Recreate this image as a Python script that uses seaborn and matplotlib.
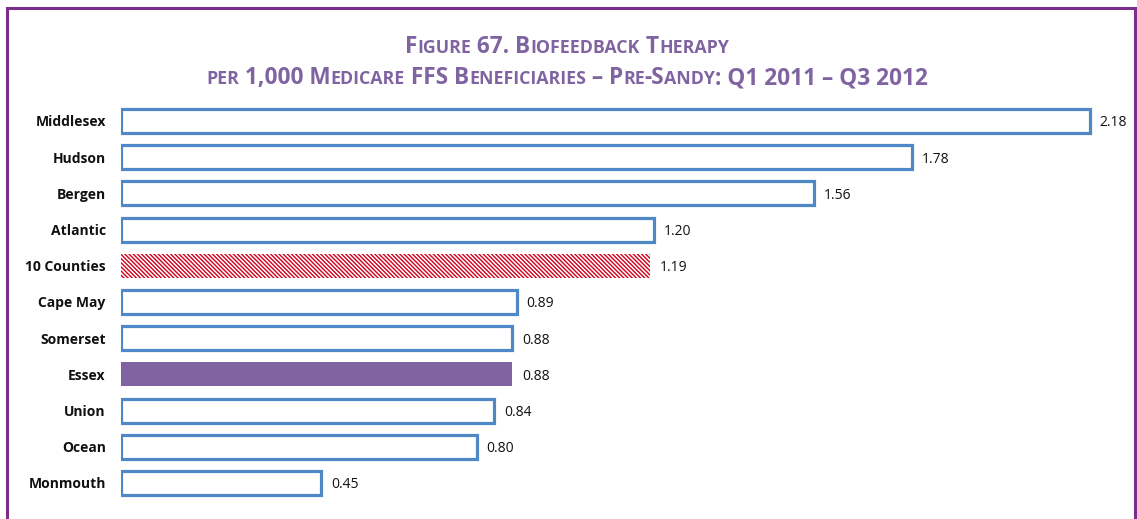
import matplotlib
matplotlib.use("Agg")
import matplotlib.pyplot as plt
from matplotlib.patches import Rectangle
import seaborn as sns

counties = ["Middlesex", "Hudson", "Bergen", "Atlantic", "10 Counties", "Cape May",
            "Somerset", "Essex", "Union", "Ocean", "Monmouth"]
rates = [2.18, 1.78, 1.56, 1.20, 1.19, 0.89, 0.88, 0.88, 0.84, 0.80, 0.45]
value_labels = ["2.18", "1.78", "1.56", "1.20", "1.19", "0.89", "0.88", "0.88", "0.84", "0.80", "0.45"]

title_line1 = "Figure 67. Biofeedback Therapy"
title_line2 = "per 1,000 Medicare FFS Beneficiaries \u2013 Pre-Sandy: Q1 2011 \u2013 Q3 2012"

BLUE = "#4F88C6"
PURPLE = "#8064A2"
FRAME = "#7B2D8E"

sns.set_theme(style="white")
plt.rcParams["font.family"] = ["Open Sans", "DejaVu Sans"]

W, H = 1137, 519
fig = plt.figure(figsize=(W / 100, H / 100), dpi=100)

# axes placement in pixels: bar baseline at x=121, 444.5 px per unit
left_px, width_px = 121, 1000
top_px, bottom_px = 102.9, 501.1
ax = fig.add_axes([left_px / W, 1 - bottom_px / H, width_px / W, (bottom_px - top_px) / H])

sns.barplot(x=rates, y=counties, orient="h", color="white", edgecolor=BLUE,
            linewidth=2.3, width=0.66, saturation=1, ax=ax)

plt.rcParams["hatch.linewidth"] = 0.8
for name, patch in zip(counties, ax.patches):
    if name == "10 Counties":
        patch.set_facecolor("white")
        patch.set_edgecolor("#D0001C")
        patch.set_hatch("\\" * 8)
        patch.set_linewidth(0)
    elif name == "Essex":
        patch.set_facecolor(PURPLE)
        patch.set_edgecolor(PURPLE)
        patch.set_linewidth(0)

for i, (v, lab) in enumerate(zip(rates, value_labels)):
    ax.text(v + 0.022, i, lab, va="center_baseline", ha="left", fontsize=10, color="#111111")

ax.set_xlim(0, width_px / 444.5)
ax.set_ylim(len(counties) - 0.5, -0.5)
ax.set_xticks([])
ax.tick_params(axis="y", length=0, pad=11)
ax.set_yticks(range(len(counties)))
ax.set_yticklabels(counties, fontsize=10, fontweight="bold", color="#111111")
ax.set_xlabel("")
ax.set_ylabel("")
for s in ax.spines.values():
    s.set_visible(False)

# outer frame
fig.patches.append(Rectangle((7 / W, -0.05), (1135 - 7) / W, 1.05 - 8 / H,
                             transform=fig.transFigure, fill=False,
                             edgecolor=FRAME, linewidth=2.2, clip_on=False))

# small-caps title
renderer = fig.canvas.get_renderer()


def small_caps(text, y_px, big=16.3, small=12.8):
    runs = []
    for ch in text:
        is_small = ch.islower()
        if runs and runs[-1][1] == is_small:
            runs[-1][0] += ch
        else:
            runs.append([ch, is_small])
    items = []
    for chunk, is_small in runs:
        t = fig.text(0, 1 - y_px / H, chunk.upper(), fontsize=small if is_small else big,
                     fontweight="bold", color=PURPLE, va="baseline", ha="left")
        w = t.get_window_extent(renderer).width
        items.append((t, w))
    total = sum(w for _, w in items)
    x = 567 - total / 2
    for t, w in items:
        t.set_x(x / W)
        x += w


small_caps(title_line1, 53)
small_caps(title_line2, 84)

fig.savefig("out.png", dpi=100)
